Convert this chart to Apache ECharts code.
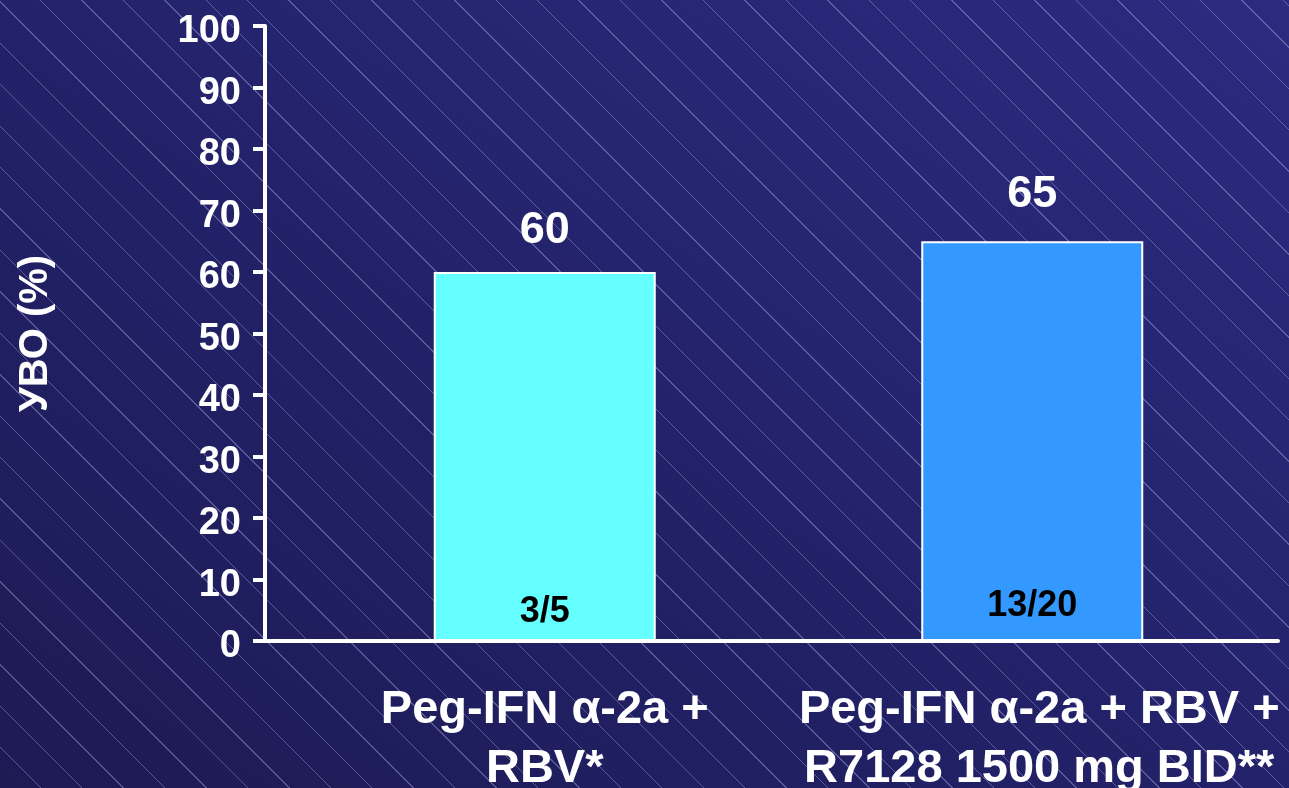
<!DOCTYPE html>
<html>
<head>
<meta charset="utf-8">
<script src="https://cdn.jsdelivr.net/npm/echarts@6/dist/echarts.min.js"></script>
<style>
  html, body { margin: 0; padding: 0; }
  #chart {
    width: 1289px;
    height: 788px;
    background:
      repeating-linear-gradient(45deg, rgba(255,255,255,0) 0px, rgba(255,255,255,0) 28.3px, rgba(170,170,230,0.42) 28.3px, rgba(170,170,230,0.42) 29.3px),
      linear-gradient(to top right, #1d1b54 0%, #23226a 50%, #2b2b80 100%);
  }
</style>
</head>
<body>
<div id="chart"></div>
<script>
// Treatment arms and response rates
const categories = ['Peg-IFN α-2a +\nRBV*', 'Peg-IFN α-2a + RBV +\nR7128 1500 mg BID**'];
const responseRates = [60, 65];
const responders = [3, 13];
const patients = [5, 20];
const barColors = ['#66FFFF', '#3399FF'];
const yTicks = { min: 0, max: 100, interval: 10 };

const FONT = '"Liberation Sans", Arial, sans-serif';

const chart = echarts.init(document.getElementById('chart'), null, { renderer: 'canvas' });

const barData = responseRates.map((v, i) => ({
  value: v,
  itemStyle: { color: barColors[i], borderColor: '#ffffff', borderWidth: 2 },
  label: {
    show: true,
    position: 'top',
    distance: i === 0 ? 19 : 24,
    formatter: String(v),
    color: '#ffffff',
    fontFamily: FONT,
    fontWeight: 'bold',
    fontSize: 45
  }
}));

const fractionData = responseRates.map((v, i) => ({
  value: v,
  itemStyle: { color: 'rgba(0,0,0,0)', borderWidth: 0 },
  label: {
    show: true,
    position: 'insideBottom',
    distance: i === 0 ? 11 : 17,
    formatter: responders[i] + '/' + patients[i],
    color: '#000000',
    fontFamily: FONT,
    fontWeight: 'bold',
    fontSize: 36
  }
}));

// The second category label sits slightly right of its bar
const categoryData = categories.map((c, i) => ({
  value: c,
  textStyle: i === 1 ? { padding: [0, 0, 0, 14] } : {}
}));

chart.setOption({
  backgroundColor: 'transparent',
  animation: false,
  grid: [
    { left: 265, right: 11, top: 26, bottom: 147, outerBoundsMode: 'none', containLabel: false },
    { left: 301, right: 13, top: 26, bottom: 147, outerBoundsMode: 'none', containLabel: false }
  ],
  xAxis: [
    {
      gridIndex: 0,
      type: 'value',
      min: 0,
      max: 1,
      axisLine: { show: true, onZero: false, lineStyle: { color: '#ffffff', width: 4 } },
      axisTick: { show: false },
      axisLabel: { show: false },
      splitLine: { show: false }
    },
    {
      gridIndex: 1,
      type: 'category',
      data: categoryData,
      axisLine: { show: false },
      axisTick: { show: false },
      axisLabel: {
        color: '#ffffff',
        fontFamily: FONT,
        fontWeight: 'bold',
        fontSize: 47,
        lineHeight: 59,
        margin: 40,
        interval: 0
      }
    }
  ],
  yAxis: [
    {
      gridIndex: 0,
      type: 'value',
      min: yTicks.min,
      max: yTicks.max,
      interval: yTicks.interval,
      name: 'УВО (%)',
      nameLocation: 'middle',
      nameGap: 209,
      nameRotate: 90,
      nameTextStyle: {
        color: '#ffffff',
        fontFamily: FONT,
        fontWeight: 'bold',
        fontSize: 40
      },
      axisLine: { show: true, lineStyle: { color: '#ffffff', width: 4 } },
      axisTick: { show: true, length: 12, lineStyle: { color: '#ffffff', width: 4 } },
      axisLabel: {
        color: '#ffffff',
        fontFamily: FONT,
        fontWeight: 'bold',
        fontSize: 38,
        margin: 24,
        verticalAlign: 'top',
        lineHeight: 12
      },
      splitLine: { show: false }
    },
    {
      gridIndex: 1,
      type: 'value',
      min: yTicks.min,
      max: yTicks.max,
      interval: yTicks.interval,
      show: false
    }
  ],
  series: [
    {
      type: 'bar',
      xAxisIndex: 1,
      yAxisIndex: 1,
      barWidth: 222,
      data: barData,
      z: 2
    },
    {
      type: 'bar',
      xAxisIndex: 1,
      yAxisIndex: 1,
      barWidth: 222,
      barGap: '-100%',
      data: fractionData,
      z: 3
    }
  ]
});
</script>
</body>
</html>
